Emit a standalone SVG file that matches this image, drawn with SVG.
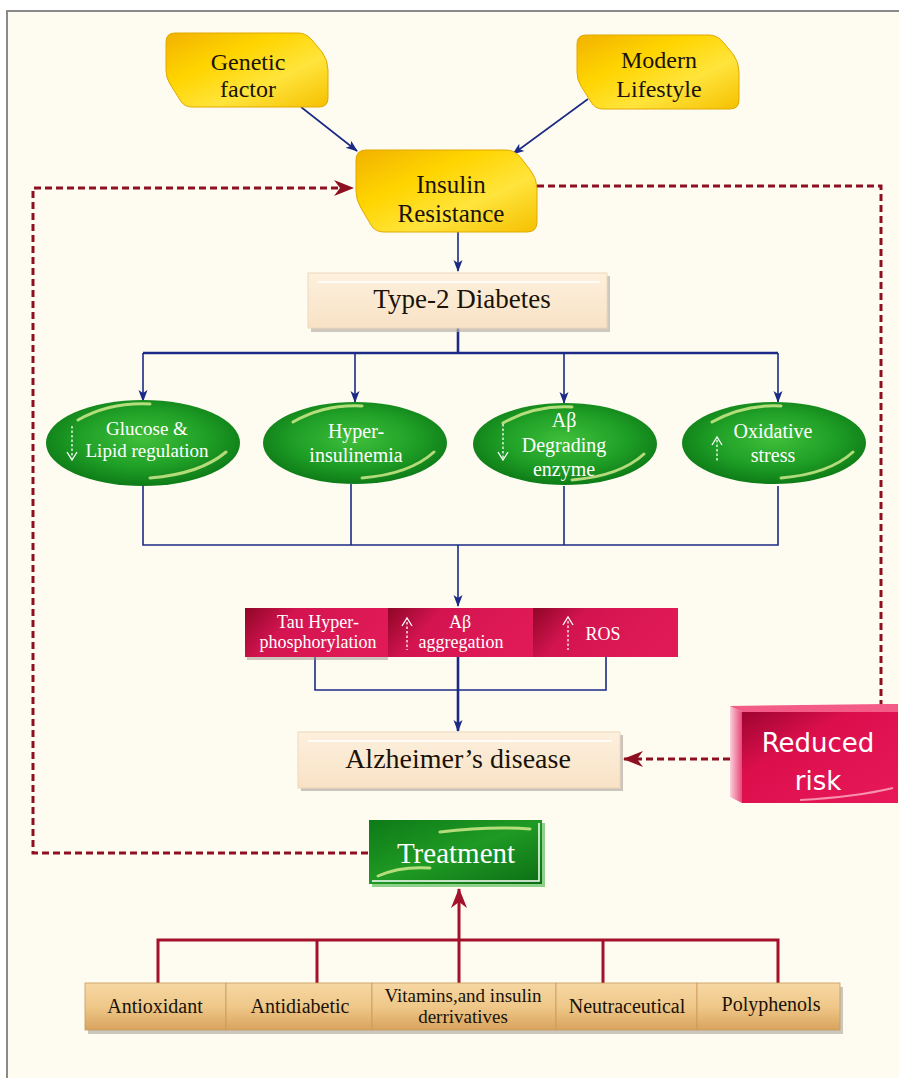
<svg xmlns="http://www.w3.org/2000/svg" width="899" height="1078" viewBox="0 0 899 1078">
<defs>
<style>
.serif{font-family:"Liberation Serif","Times New Roman",serif}
.dark{fill:#1a1208}
.wt{fill:#ffffff}
.navy{stroke:#1b2a86;stroke-width:1.6;fill:none}
.navy2{stroke:#1b2a86;stroke-width:2.6;fill:none}
.dash{stroke:#8e0f1f;stroke-width:3;fill:none;stroke-dasharray:7 4}
.red{stroke:#a3112b;stroke-width:3;fill:none}
.ydw{fill:url(#yel);stroke:#e2a800;stroke-width:1}
.ell{fill:url(#grn)}
.hl{fill:none;stroke:#e8f59a;stroke-width:3;stroke-linecap:round;opacity:0.75}
.warr{stroke:#ffffff;stroke-width:1.3;stroke-dasharray:2.5 2;fill:none}
.wch{stroke:#ffffff;stroke-width:1.3;fill:none}
.seg{fill:url(#redg)}
.tan{fill:url(#tang);stroke:#c99a5a;stroke-width:0.8}
</style>
<linearGradient id="yel" x1="0" y1="0" x2="1" y2="1">
<stop offset="0" stop-color="#f2b200"/>
<stop offset="0.35" stop-color="#ffd500"/>
<stop offset="0.65" stop-color="#ffe43c"/>
<stop offset="1" stop-color="#f5c000"/>
</linearGradient>
<radialGradient id="grn" cx="0.5" cy="0.45" r="0.6">
<stop offset="0" stop-color="#3fbf3a"/>
<stop offset="0.55" stop-color="#1f9f26"/>
<stop offset="1" stop-color="#0a7414"/>
</radialGradient>
<linearGradient id="redg" x1="0" y1="0" x2="1" y2="0.3">
<stop offset="0" stop-color="#8f0626"/>
<stop offset="0.35" stop-color="#d31450"/>
<stop offset="1" stop-color="#e01a57"/>
</linearGradient>
<linearGradient id="rr" x1="0" y1="0" x2="1" y2="1">
<stop offset="0" stop-color="#9e0530"/>
<stop offset="0.35" stop-color="#dc0f4c"/>
<stop offset="1" stop-color="#e8185a"/>
</linearGradient>
<linearGradient id="rrside" x1="0" y1="0" x2="1" y2="0">
<stop offset="0" stop-color="#fbd0dc"/>
<stop offset="1" stop-color="#e84878"/>
</linearGradient>
<linearGradient id="trt" x1="0" y1="0" x2="1" y2="1">
<stop offset="0" stop-color="#0e7a17"/>
<stop offset="0.5" stop-color="#1f9a24"/>
<stop offset="1" stop-color="#0c6e14"/>
</linearGradient>
<linearGradient id="tang" x1="0" y1="0" x2="0" y2="1">
<stop offset="0" stop-color="#f6d7a3"/>
<stop offset="0.5" stop-color="#efc889"/>
<stop offset="1" stop-color="#d9a35e"/>
</linearGradient>
<linearGradient id="cream" x1="0" y1="0" x2="0" y2="1">
<stop offset="0" stop-color="#fdf0dd"/>
<stop offset="1" stop-color="#f8e2c6"/>
</linearGradient>
<marker id="na" markerUnits="userSpaceOnUse" markerWidth="12" markerHeight="12" viewBox="0 0 12 12" refX="11" refY="6" orient="auto">
<path d="M0,1.5 L12,6 L0,10.5 L3,6 Z" fill="#1b2a86"/>
</marker>
<marker id="ra" markerUnits="userSpaceOnUse" markerWidth="20" markerHeight="16" viewBox="0 0 20 16" refX="19" refY="8" orient="auto">
<path d="M0,0 L20,8 L0,16 L6,8 Z" fill="#8e0f1f"/>
</marker>
<marker id="ra2" markerUnits="userSpaceOnUse" markerWidth="20" markerHeight="16" viewBox="0 0 20 16" refX="19" refY="8" orient="auto">
<path d="M0,0 L20,8 L0,16 L6,8 Z" fill="#a3112b"/>
</marker>
</defs>

<rect x="0" y="0" width="899" height="1078" fill="#ffffff"/>
<rect x="7" y="11" width="900" height="1080" fill="#fefcf0" stroke="#8a8a8a" stroke-width="2"/>

<g id="connectors">
<line class="navy" x1="301" y1="107" x2="357" y2="151" marker-end="url(#na)"/>
<line class="navy" x1="588" y1="99" x2="513" y2="154" marker-end="url(#na)"/>
<line class="navy" x1="458" y1="232" x2="458" y2="271" marker-end="url(#na)"/>
<line class="navy2" x1="458" y1="328" x2="458" y2="353"/>
<line class="navy2" x1="143" y1="353" x2="778" y2="353"/>
<line class="navy" x1="143" y1="353" x2="143" y2="401" marker-end="url(#na)"/>
<line class="navy" x1="355" y1="353" x2="355" y2="402" marker-end="url(#na)"/>
<line class="navy" x1="564" y1="353" x2="564" y2="403" marker-end="url(#na)"/>
<line class="navy" x1="778" y1="353" x2="778" y2="402" marker-end="url(#na)"/>
<polyline class="navy" points="143,486 143,545 778,545 778,486"/>
<line class="navy" x1="351" y1="484" x2="351" y2="545"/>
<line class="navy" x1="564" y1="486" x2="564" y2="545"/>
<line class="navy" x1="458" y1="545" x2="458" y2="606" marker-end="url(#na)"/>
<polyline class="navy" points="315,657 315,690 606,690 606,657"/>
<line class="navy2" x1="458" y1="657" x2="458" y2="731" marker-end="url(#na)"/>
<path class="dash" d="M368,853 H33 V188 H353" marker-end="url(#ra)"/>
<path class="dash" d="M537,186 H881 V705"/>
<line class="dash" x1="730" y1="759" x2="624" y2="759" marker-end="url(#ra)"/>
<polyline class="red" points="158,983 158,940 778,940 778,983"/>
<line class="red" x1="317" y1="940" x2="317" y2="983"/>
<line class="red" x1="603" y1="940" x2="603" y2="983"/>
<line class="red" x1="459" y1="983" x2="459" y2="889" marker-end="url(#ra2)"/>
</g>

<g id="genetic-factor">
<path class="ydw" d="M175,33 H298 Q306,33 312,40 L322,52 Q328,60 328,70 V98 Q328,107 319,107 H192 Q184,107 180,100 L170,84 Q166,78 166,70 V42 Q166,33 175,33 Z"/>
<text class="serif dark" x="248" y="70" font-size="24" text-anchor="middle">Genetic</text>
<text class="serif dark" x="248" y="97" font-size="24" text-anchor="middle">factor</text>
</g>
<g id="modern-lifestyle">
<path class="ydw" d="M586,35 H709 Q717,35 723,42 L733,54 Q739,62 739,72 V100 Q739,109 730,109 H603 Q595,109 591,102 L581,86 Q577,80 577,72 V44 Q577,35 586,35 Z"/>
<text class="serif dark" x="659" y="68" font-size="24" text-anchor="middle">Modern</text>
<text class="serif dark" x="659" y="97" font-size="24" text-anchor="middle">Lifestyle</text>
</g>
<g id="insulin-resistance">
<path class="ydw" d="M366,150 H506 Q515,150 521,158 L531,171 Q537,179 537,189 V222 Q537,232 527,232 H384 Q375,232 371,225 L361,208 Q356,200 356,191 V160 Q356,150 366,150 Z"/>
<text class="serif dark" x="451" y="193" font-size="25" text-anchor="middle">Insulin</text>
<text class="serif dark" x="451" y="222" font-size="25" text-anchor="middle">Resistance</text>
</g>

<g id="type2-diabetes">
<rect x="311" y="276" width="299" height="56" fill="#b9b2aa" opacity="0.7"/>
<rect x="308" y="273" width="299" height="55" fill="url(#cream)" stroke="#eed8bb" stroke-width="1"/>
<path d="M318,282 H600" stroke="#ffffff" stroke-width="2" opacity="0.8" fill="none"/>
<text class="serif dark" x="462" y="308" font-size="27" text-anchor="middle">Type-2 Diabetes</text>
</g>

<g id="glucose-lipid">
<ellipse class="ell" cx="143" cy="443" rx="97" ry="43"/>
<path class="hl" d="M78,420 Q110,402 150,404"/>
<path class="hl" d="M150,478 Q200,474 226,452"/>
<text class="serif wt" x="147" y="435" font-size="19" text-anchor="middle">Glucose &amp;</text>
<text class="serif wt" x="147" y="457" font-size="19" text-anchor="middle">Lipid regulation</text>
<line class="warr" x1="72" y1="426" x2="72" y2="458"/>
<polyline class="wch" points="67,452 72,460 77,452"/>
</g>
<g id="hyperinsulinemia">
<ellipse class="ell" cx="355" cy="443" rx="92" ry="41"/>
<path class="hl" d="M293,422 Q325,404 362,406"/>
<path class="hl" d="M362,478 Q410,474 434,452"/>
<text class="serif wt" x="356" y="438" font-size="20" text-anchor="middle">Hyper-</text>
<text class="serif wt" x="356" y="462" font-size="20" text-anchor="middle">insulinemia</text>
</g>
<g id="abeta-degrading">
<ellipse class="ell" cx="565" cy="444" rx="92" ry="41"/>
<path class="hl" d="M503,423 Q535,405 572,407"/>
<path class="hl" d="M572,480 Q620,476 644,454"/>
<text class="serif wt" x="564" y="427" font-size="20" text-anchor="middle">Aβ</text>
<text class="serif wt" x="564" y="452" font-size="20" text-anchor="middle">Degrading</text>
<text class="serif wt" x="564" y="476" font-size="20" text-anchor="middle">enzyme</text>
<line class="warr" x1="503" y1="424" x2="503" y2="458"/>
<polyline class="wch" points="498,452 503,460 508,452"/>
</g>
<g id="oxidative-stress">
<ellipse class="ell" cx="774" cy="443" rx="92" ry="41"/>
<path class="hl" d="M712,422 Q744,404 781,406"/>
<path class="hl" d="M781,478 Q829,474 853,452"/>
<text class="serif wt" x="773" y="438" font-size="20" text-anchor="middle">Oxidative</text>
<text class="serif wt" x="773" y="462" font-size="20" text-anchor="middle">stress</text>
<line class="warr" x1="717" y1="440" x2="717" y2="462"/>
<polyline class="wch" points="712,445 717,437 722,445"/>
</g>

<g id="tau-hyperphosphorylation">
<rect x="247" y="610" width="141" height="50" fill="#9a8e88" opacity="0.5"/>
<rect class="seg" x="245" y="608" width="143" height="49"/>
<text class="serif wt" x="318" y="628" font-size="18" text-anchor="middle">Tau Hyper-</text>
<text class="serif wt" x="318" y="648" font-size="18" text-anchor="middle">phosphorylation</text>
</g>
<g id="abeta-aggregation">
<rect class="seg" x="388" y="608" width="145" height="49"/>
<text class="serif wt" x="460" y="628" font-size="18" text-anchor="middle">Aβ</text>
<text class="serif wt" x="461" y="648" font-size="18" text-anchor="middle">aggregation</text>
<line class="warr" x1="407" y1="622" x2="407" y2="650"/>
<polyline class="wch" points="402,626 407,618 412,626"/>
</g>
<g id="ros">
<rect class="seg" x="533" y="608" width="145" height="49"/>
<text class="serif wt" x="603" y="640" font-size="18" text-anchor="middle">ROS</text>
<line class="warr" x1="568" y1="621" x2="568" y2="650"/>
<polyline class="wch" points="563,625 568,617 573,625"/>
</g>

<g id="alzheimers-disease">
<rect x="301" y="735" width="322" height="56" fill="#b3ada6" opacity="0.7"/>
<rect x="298" y="732" width="322" height="56" fill="url(#cream)" stroke="#eed8bb" stroke-width="1"/>
<path d="M308,741 H612" stroke="#ffffff" stroke-width="2" opacity="0.8" fill="none"/>
<text class="serif dark" x="458" y="768" font-size="28" text-anchor="middle">Alzheimer’s disease</text>
</g>

<g id="reduced-risk">
<polygon points="730,706 742,712 742,803 730,797" fill="url(#rrside)"/>
<polygon points="730,706 886,704 898,704 898,712 742,712" fill="#f35c86"/>
<rect x="742" y="712" width="156" height="91" fill="url(#rr)"/>
<path d="M800,800 Q855,797 893,788" stroke="#ffc6d6" stroke-width="2" fill="none" opacity="0.7"/>
<text x="818" y="752" font-family="DejaVu Sans, sans-serif" font-size="26" fill="#ffffff" text-anchor="middle">Reduced</text>
<text x="818" y="790" font-family="DejaVu Sans, sans-serif" font-size="26" fill="#ffffff" text-anchor="middle">risk</text>
</g>

<g id="treatment">
<rect x="372" y="823" width="173" height="64" fill="#8fd08a"/>
<rect x="369" y="820" width="173" height="64" fill="url(#trt)"/>
<path d="M539,823 V881 H372" stroke="#ffffff" stroke-width="1.5" fill="none"/>
<path d="M440,832 Q490,826 530,829" class="hl"/>
<path d="M378,876 Q400,866 430,868" class="hl"/>
<text class="serif wt" x="456" y="863" font-size="29" text-anchor="middle">Treatment</text>
</g>

<g id="antioxidant">
<rect x="88" y="987" width="141" height="47" fill="#aaa49c" opacity="0.6"/>
<rect class="tan" x="85" y="983" width="141" height="47"/>
<text class="serif dark" x="155" y="1013" font-size="20" text-anchor="middle">Antioxidant</text>
</g>
<g id="antidiabetic">
<rect x="229" y="987" width="146" height="47" fill="#aaa49c" opacity="0.6"/>
<rect class="tan" x="226" y="983" width="146" height="47"/>
<text class="serif dark" x="300" y="1013" font-size="20" text-anchor="middle">Antidiabetic</text>
</g>
<g id="vitamins">
<rect x="375" y="987" width="184" height="47" fill="#aaa49c" opacity="0.6"/>
<rect class="tan" x="372" y="983" width="184" height="47"/>
<text class="serif dark" x="463" y="1002" font-size="19" text-anchor="middle">Vitamins,and insulin</text>
<text class="serif dark" x="463" y="1023" font-size="19" text-anchor="middle">derrivatives</text>
</g>
<g id="neutraceutical">
<rect x="559" y="987" width="141" height="47" fill="#aaa49c" opacity="0.6"/>
<rect class="tan" x="556" y="983" width="141" height="47"/>
<text class="serif dark" x="627" y="1013" font-size="20" text-anchor="middle">Neutraceutical</text>
</g>
<g id="polyphenols">
<rect x="700" y="987" width="143" height="47" fill="#aaa49c" opacity="0.6"/>
<rect class="tan" x="697" y="983" width="143" height="47"/>
<text class="serif dark" x="771" y="1011" font-size="20" text-anchor="middle">Polyphenols</text>
</g>
</svg>
